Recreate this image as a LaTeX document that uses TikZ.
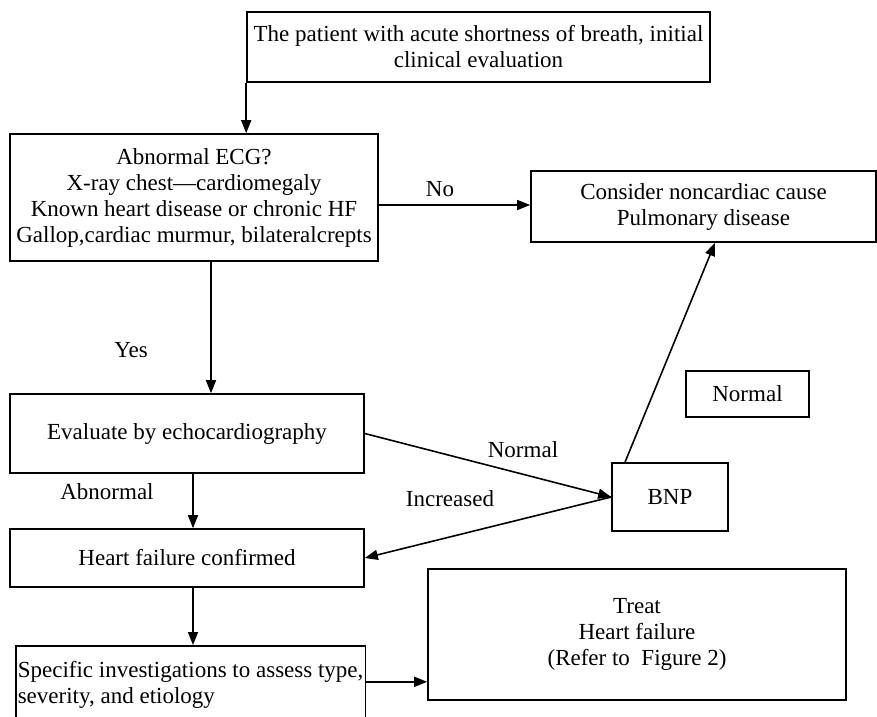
\documentclass[tikz,border=0pt]{standalone}
\usepackage{fontspec}
\setmainfont{Liberation Serif}
\usetikzlibrary{arrows.meta}

\tikzset{
  box/.style={draw, line width=1.6pt, inner sep=0pt, align=center},
  lbl/.style={inner sep=0pt},
  arr/.style={line width=1.6pt, -{Triangle[length=13pt, width=10pt]}}
}

\begin{document}
\begin{tikzpicture}[x=1pt, y=-1pt, font=\fontsize{23}{26}\selectfont]
  \useasboundingbox (0,0) rectangle (877,716);
  \clip (0,0) rectangle (877,716);

  % Boxes
  \node[box, minimum width=463, minimum height=70] (start) at (478.5,47)
    {The patient with acute shortness of breath, initial\\clinical evaluation};
  \node[box, minimum width=368, minimum height=127] (ecg) at (194,197.5)
    {Abnormal ECG?\\X-ray chest---cardiomegaly\\Known heart disease or chronic HF\\Gallop,cardiac murmur, bilateralcrepts};
  \node[box, minimum width=345, minimum height=71] (noncard) at (703.5,206.5)
    {Consider noncardiac cause\\Pulmonary disease};
  \node[box, minimum width=354, minimum height=79] (echo) at (187,433.5)
    {Evaluate by echocardiography};
  \node[box, minimum width=123, minimum height=46] (normalbox) at (747.5,394) {Normal};
  \node[box, minimum width=116, minimum height=68] (bnp) at (670,497) {BNP};
  \node[box, minimum width=354, minimum height=58] (hf) at (187,558) {Heart failure confirmed};
  \node[box, anchor=north west, minimum width=349, minimum height=78,
        align=left, inner xsep=2pt] (spec) at (15,645)
    {Specific investigations to assess type,\\severity, and etiology};
  \node[box, minimum width=418, minimum height=131] (treat) at (637,634.5)
    {Treat\\Heart failure\\(Refer to\ \ Figure 2)};

  % Labels
  \node[lbl] (no) at (440,189) {No};
  \node[lbl] (yes) at (131,350) {Yes};
  \node[lbl] (normal) at (523,450) {Normal};
  \node[lbl] (increased) at (450,499) {Increased};
  \node[lbl] (abnormal) at (107,492) {Abnormal};

  % Connectors
  \draw[arr] (start.south west) -- (start.south west |- ecg.north);
  \draw[arr] ([yshift=-7.5pt]ecg.east) -- ([yshift=-7.5pt]ecg.east -| noncard.west);
  \draw[arr] ([xshift=17pt]ecg.south) -- ([xshift=17pt]ecg.south |- echo.north);
  \draw[arr] (echo.east) -- (bnp.west);
  \draw[arr] (bnp.west) -- (hf.east);
  \draw[arr] ([xshift=-45pt]bnp.north) -- ([xshift=11.5pt]noncard.south);
  \draw[arr] ([xshift=6pt]echo.south) -- ([xshift=6pt]echo.south |- hf.north);
  \draw[arr] ([xshift=6pt]hf.south) -- ([xshift=6pt]hf.south |- spec.north);
  \draw[arr] ([yshift=3pt]spec.east) -- ([yshift=3pt]spec.east -| treat.west);
\end{tikzpicture}
\end{document}
